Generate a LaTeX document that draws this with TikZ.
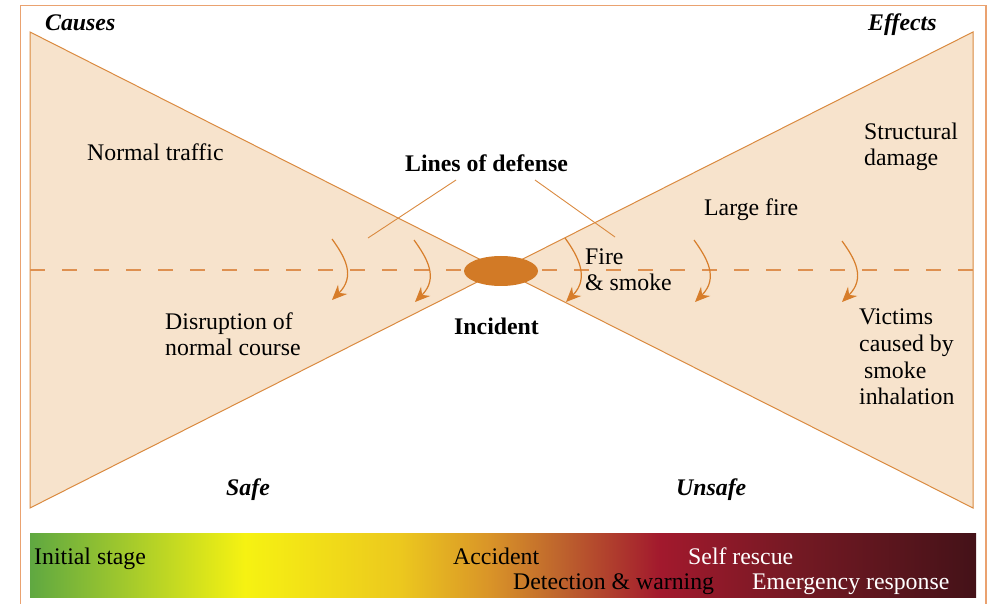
\documentclass[tikz,border=0pt]{standalone}
\usepackage{fontspec}
\setmainfont{Liberation Serif}
\usetikzlibrary{arrows.meta,shapes.geometric,calc}
\definecolor{framec}{RGB}{234,162,112}
\definecolor{trifill}{RGB}{247,227,204}
\definecolor{tristroke}{RGB}{218,138,64}
\definecolor{dashc}{RGB}{222,144,80}
\definecolor{arrc}{RGB}{215,125,42}
\definecolor{ellc}{RGB}{210,122,38}
\definecolor{g1}{HTML}{5FA841}
\definecolor{g2}{HTML}{F6F212}
\definecolor{g3}{HTML}{ECC81E}
\definecolor{g4}{HTML}{D99428}
\definecolor{g5}{HTML}{BE642D}
\definecolor{g6}{HTML}{A2192D}
\definecolor{g7}{HTML}{731923}
\definecolor{g8}{HTML}{441218}
\pgfdeclarehorizontalshading{barshade}{100bp}{color(0bp)=(g1); color(25bp)=(g1); color(36.37bp)=(g2); color(44.55bp)=(g3); color(49.3bp)=(g4); color(53bp)=(g5); color(58.3bp)=(g6); color(65.7bp)=(g7); color(75bp)=(g8); color(100bp)=(g8)}
\tikzset{
  txt/.style={anchor=base west, inner sep=0pt, yshift=-1.5pt, font=\fontsize{23.8}{26.5}\selectfont},
  btxt/.style={txt, font=\fontsize{23.8}{26.5}\selectfont\bfseries},
  bitxt/.style={txt, font=\fontsize{23.8}{26.5}\selectfont\bfseries\itshape},
  wtxt/.style={txt, text=white},
  tri/.style={fill=trifill, draw=tristroke, line width=1pt},
  defline/.style={draw=tristroke, line width=0.9pt},
  flowarr/.style={draw=arrc, line width=1.2pt, -{Stealth[length=15pt,width=13pt,inset=5pt]}},
}
\begin{document}
\begin{tikzpicture}[x=1pt,y=-1pt]
\useasboundingbox (0,0) rectangle (991,604);
\begin{scope}
\clip (0,0) rectangle (991,604);
\draw[framec, line width=1.3pt] (20.5,5.5) rectangle (986,640);
\end{scope}
% triangles
\draw[tri] (30,32) -- (501,270) -- (30,508) -- cycle;
\draw[tri] (973,32) -- (501,270) -- (973,508) -- cycle;
% dashed axis
\coordinate (dl) at (30,270);
\coordinate (dr) at (973,270);
\draw[dashc, line width=1.5pt, dash pattern=on 15pt off 17pt] (dl) -- (dr);
% incident ellipse
\node[ellipse, fill=ellc, minimum width=74pt, minimum height=30pt, inner sep=0pt] (inc) at (501,271) {};
% arrows
\coordinate (a1s) at (332,239); \coordinate (a1e) at (332,300);
\coordinate (a2s) at (414,240); \coordinate (a2e) at (415,302);
\coordinate (a3s) at (565,238); \coordinate (a3e) at (566,302);
\coordinate (a4s) at (694,240); \coordinate (a4e) at (695,302);
\coordinate (a5s) at (842,241); \coordinate (a5e) at (842,302);
\foreach \i in {1,...,5}{
  \draw[flowarr] (a\i s) .. controls ($(a\i s)+(13,18)$) and ($(a\i e)+(24,-24)$) .. (a\i e);
}
% lines of defense
\node[btxt] (lod) at (405,170) {Lines of defense};
\coordinate (l1a) at (456,180); \coordinate (l1b) at (368,238);
\coordinate (l2a) at (535,180); \coordinate (l2b) at (615,237);
\draw[defline] (l1a) -- (l1b);
\draw[defline] (l2a) -- (l2b);
% labels
\node[bitxt] (causes) at (45,29) {Causes};
\node[bitxt] (effects) at (868,29) {Effects};
\node[txt] (nt) at (87,159) {Normal traffic};
\node[txt] (d1) at (165,328) {Disruption of};
\node[txt] (d2) at (165,354) {normal course};
\node[btxt] (inct) at (454,333) {Incident};
\node[txt] (f1) at (585,263) {Fire};
\node[txt] (f2) at (585,289) {\& smoke};
\node[txt] (lf) at (704,214) {Large fire};
\node[txt] (s1) at (864,138) {Structural};
\node[txt] (s2) at (864,164) {damage};
\node[txt] (v1) at (859,323) {Victims};
\node[txt] (v2) at (859,350) {caused by};
\node[txt] (v3) at (864,377) {smoke};
\node[txt] (v4) at (859,403) {inhalation};
\node[bitxt] (safe) at (226,494) {Safe};
\node[bitxt] (unsafe) at (676,494) {Unsafe};
% gradient bar
\shade[shading=barshade] (30,533) rectangle (976,597);
\node[txt] (b1) at (34,563) {Initial stage};
\node[txt] (b2) at (453,563) {Accident};
\node[wtxt] (b3) at (688,563) {Self rescue};
\node[txt] (b4) at (513,588) {Detection \& warning};
\node[wtxt] (b5) at (752,588) {Emergency response};
\end{tikzpicture}
\end{document}
